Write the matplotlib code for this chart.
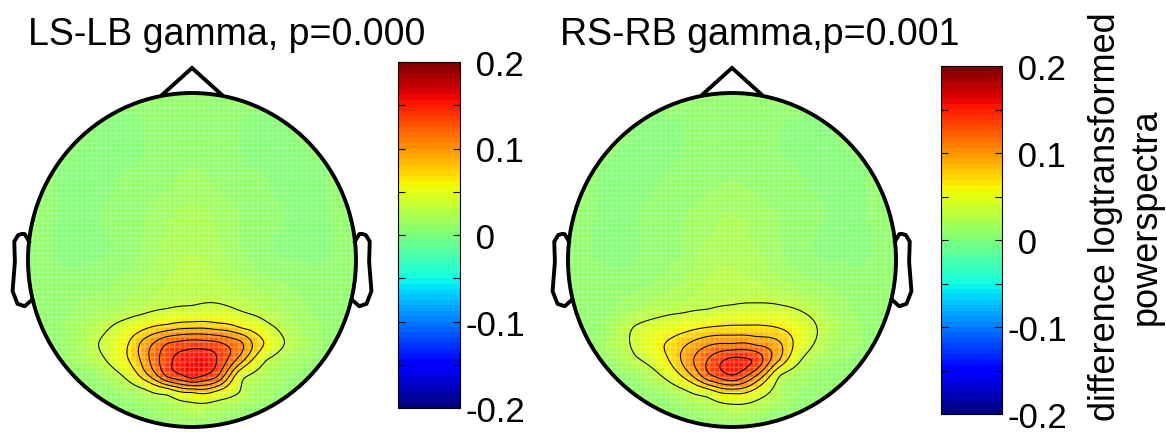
import numpy as np
import matplotlib
matplotlib.use("Agg")
import matplotlib.pyplot as plt
from matplotlib.patches import Circle
from matplotlib.colors import Normalize
from matplotlib.cm import ScalarMappable

plt.rcParams['font.family'] = ['Liberation Sans', 'DejaVu Sans']

# sample grid (head radius = 1)
grid_x = [-1.0, -0.8, -0.6, -0.45, -0.3, -0.15, 0.0, 0.15, 0.3, 0.45, 0.6, 0.8, 1.0]
grid_y = [1.0, 0.75, 0.5, 0.25, 0.0, -0.15, -0.3, -0.4, -0.5, -0.6, -0.7, -0.8, -0.9, -1.0]

ls_lb = [
    [.008, .008, .008, .008, .008, .008, .008, .008, .008, .008, .008, .008, .008],
    [.008, .008, .006, .004, .006, .008, .010, .008, .006, .004, .006, .008, .008],
    [.008, .006, .004, .006, .008, .010, .014, .010, .008, .006, .004, .006, .008],
    [.008, .006, .006, .008, .012, .018, .022, .018, .012, .008, .006, .006, .008],
    [.008, .006, .006, .008, .014, .022, .026, .022, .014, .008, .006, .006, .008],
    [.008, .008, .010, .014, .020, .026, .030, .028, .022, .016, .012, .008, .008],
    [.008, .010, .018, .022, .030, .037, .040, .042, .034, .026, .018, .010, .008],
    [.008, .012, .025, .040, .058, .072, .080, .076, .062, .042, .022, .012, .008],
    [.008, .012, .032, .050, .090, .125, .135, .130, .108, .062, .030, .012, .008],
    [.008, .010, .025, .050, .090, .137, .155, .145, .092, .036, .018, .010, .008],
    [.008, .008, .012, .028, .070, .125, .150, .125, .042, .022, .012, .010, .008],
    [.008, .008, .010, .012, .022, .040, .060, .055, .032, .015, .010, .008, .008],
    [.008, .008, .008, .010, .012, .018, .025, .020, .012, .010, .008, .008, .008],
    [.008, .008, .008, .008, .008, .010, .012, .010, .008, .008, .008, .008, .008],
]

rs_rb = [
    [.008, .008, .008, .008, .008, .008, .008, .008, .008, .008, .008, .008, .008],
    [.008, .008, .006, .005, .006, .008, .010, .008, .006, .005, .006, .008, .008],
    [.008, .006, .005, .006, .008, .010, .012, .010, .008, .006, .005, .006, .008],
    [.008, .006, .006, .008, .012, .016, .020, .016, .012, .008, .006, .006, .008],
    [.008, .006, .006, .010, .014, .022, .024, .020, .014, .008, .006, .006, .008],
    [.008, .008, .010, .014, .020, .026, .028, .026, .022, .016, .012, .008, .008],
    [.008, .010, .020, .028, .032, .036, .040, .042, .040, .032, .020, .010, .008],
    [.008, .012, .035, .045, .055, .064, .068, .068, .062, .045, .025, .012, .008],
    [.008, .015, .038, .060, .080, .100, .105, .100, .085, .045, .022, .012, .008],
    [.008, .010, .030, .050, .088, .125, .150, .140, .080, .028, .015, .010, .008],
    [.008, .008, .012, .030, .065, .115, .140, .100, .030, .015, .010, .008, .008],
    [.008, .008, .010, .012, .025, .045, .065, .050, .022, .012, .010, .008, .008],
    [.008, .008, .008, .010, .012, .018, .025, .020, .012, .010, .008, .008, .008],
    [.008, .008, .008, .008, .008, .010, .012, .010, .008, .008, .008, .008, .008],
]

titles = ['LS-LB gamma, p=0.000', 'RS-RB gamma,p=0.001']
contour_levels = [0.035, 0.065, 0.085, 0.105, 0.125, 0.145]
cbar_ticks = [-0.2, -0.15, -0.1, -0.05, 0.0, 0.05, 0.1, 0.15, 0.2]
cbar_labels = ['-0.2', '', '-0.1', '', ' 0', '', ' 0.1', '', ' 0.2']
cbar_title = 'difference logtransformed\npowerspectra'

# eeglab style outline (head radius 0.5 units, scaled x2)
ear_x = np.array([.497, .510, .518, .5299, .5419, .54, .547, .532, .510, .489]) * 2
ear_y = np.array([.0555, .0775, .0783, .0746, .0555, -.0055, -.0932, -.1313, -.1384, -.1199]) * 2
nose_x = np.array([.09, 0, -.09]) * 2
nose_y = np.array([.4954, .575, .4954]) * 2

W, H = 1166, 439
cmap = plt.get_cmap('jet', 64)
norm = Normalize(-0.2, 0.2)


def green(d):
    # biharmonic spline kernel (griddata 'v4', as topoplot uses)
    with np.errstate(divide='ignore', invalid='ignore'):
        g = d ** 2 * (np.log(d) - 1)
    g[d == 0] = 0
    return g


def v4_interp(values, qx, qy):
    gx, gy = np.meshgrid(grid_x, grid_y)
    px, py = gx.ravel(), gy.ravel()
    v = np.array(values).ravel()
    d = np.hypot(px[:, None] - px[None, :], py[:, None] - py[None, :])
    w = np.linalg.solve(green(d), v)
    dq = np.hypot(qx.ravel()[:, None] - px[None, :], qy.ravel()[:, None] - py[None, :])
    return (green(dq) @ w).reshape(qx.shape)


def topo(fig, cx, values):
    rx, ry = 164, 167
    x0, x1, y0, y1 = -1.17, 1.17, -1.06, 1.22
    left = (cx + x0 * rx) / W
    bottom = (H - (261 - y0 * ry)) / H
    ax = fig.add_axes([left, bottom, (x1 - x0) * rx / W, (y1 - y0) * ry / H])
    ax.set_xlim(x0, x1)
    ax.set_ylim(y0, y1)
    ax.axis('off')

    edges = np.linspace(-1, 1, 68)
    mids = (edges[:-1] + edges[1:]) / 2
    mx, my = np.meshgrid(mids, mids)
    z = v4_interp(values, mx, my)
    clip = Circle((0, 0), 1.0, transform=ax.transData)
    mesh = ax.pcolormesh(edges, edges, z, cmap=cmap, norm=norm, shading='flat',
                         edgecolors=(1, 1, 1, 0.12), linewidth=0.3)
    mesh.set_clip_path(clip)

    fine = np.linspace(-1, 1, 201)
    fx, fy = np.meshgrid(fine, fine)
    cs = ax.contour(fx, fy, v4_interp(values, fx, fy), levels=contour_levels,
                    colors='k', linewidths=0.75)
    cs.set_clip_path(clip)

    ax.add_patch(Circle((0, 0), 1.0, fill=False, lw=2.8, ec='k', zorder=5))
    for s in (1, -1):
        ax.plot(s * ear_x, ear_y, color='k', lw=2.8, solid_joinstyle='round', zorder=5)
    ax.plot(nose_x, nose_y, color='k', lw=2.8, solid_joinstyle='miter', zorder=5)
    return ax


def colorbar(fig, rect):
    cax = fig.add_axes(rect)
    cb = fig.colorbar(ScalarMappable(norm=norm, cmap=cmap), cax=cax, ticks=cbar_ticks)
    cb.ax.set_yticklabels(cbar_labels)
    cb.ax.tick_params(direction='in', left=True, right=True, length=5, width=0.8,
                      labelsize=25, pad=4)
    cb.outline.set_linewidth(0.8)
    return cb


fig = plt.figure(figsize=(W / 100, H / 100), dpi=100)

topo(fig, 192, ls_lb)
topo(fig, 732, rs_rb)

colorbar(fig, [398 / W, (H - 409) / H, 62 / W, 346 / H])
colorbar(fig, [941 / W, (H - 415) / H, 61 / W, 348 / H])

fig.text(227 / W, 1 - 45 / H, titles[0], ha='center', va='baseline', fontsize=27)
fig.text(760 / W, 1 - 45 / H, titles[1], ha='center', va='baseline', fontsize=27)
fig.text(1126 / W, 1 - 217 / H, cbar_title, rotation=90, ha='center', va='center',
         multialignment='center', fontsize=26)

fig.savefig('out.png', dpi=100)
